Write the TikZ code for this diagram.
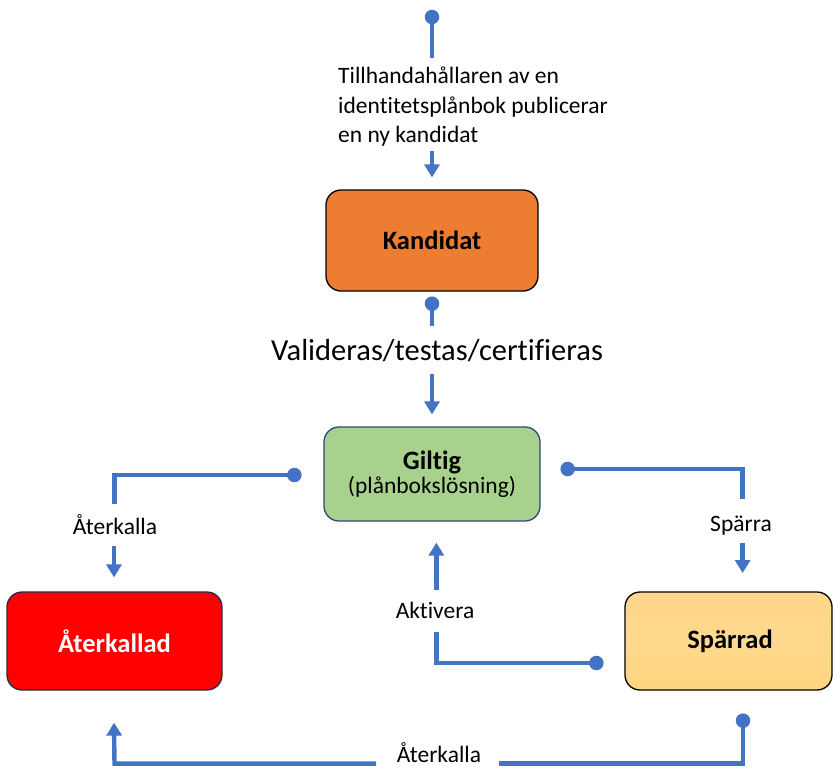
\documentclass[tikz,border=0pt]{standalone}
\usepackage{fontspec}
\setmainfont{Carlito}[RawFeature={-liga;-clig}]
\usetikzlibrary{arrows.meta,calc}
\definecolor{conn}{HTML}{4472C4}
\definecolor{orangefill}{HTML}{ED7D31}
\definecolor{greenfill}{HTML}{A9D18E}
\definecolor{redfill}{HTML}{FF0000}
\definecolor{sparrtop}{HTML}{FFD68A}
\definecolor{sparrmid}{HTML}{FFD98F}
\definecolor{sparrbot}{HTML}{FFD47E}
\definecolor{greenborder}{HTML}{2E4A6E}
\definecolor{navyborder}{HTML}{1F2F4F}
\begin{document}
\begin{tikzpicture}[x=1pt,y=-1pt,
  statebox/.style={draw,rounded corners=15pt,line width=1.3pt,inner sep=0pt},
  lbl/.style={inner sep=0pt,font=\fontsize{23.5}{29.5}\selectfont},
  wire/.style={draw=conn,line width=4.4pt},
  arr/.style={draw=conn,line width=4.4pt,-{Triangle[width=15pt,length=13pt]}},
  dot/.style={circle,fill=conn,inner sep=0pt,minimum size=14.5pt}
]
\useasboundingbox (0,0) rectangle (833,769);

% state boxes
\node[statebox,fill=orangefill,minimum width=212pt,minimum height=101pt,
  font=\fontsize{26.5}{30}\selectfont\bfseries] (kand) at (432,240.5) {Kandidat};
\node[statebox,draw=greenborder,fill=greenfill,minimum width=216pt,minimum height=94pt,
  align=center] (gilt) at (432,474)
  {\raisebox{-2pt}{\fontsize{26.5}{30}\selectfont\bfseries Giltig}\\[1pt]\raisebox{-2pt}{\fontsize{23.5}{28}\selectfont (plånbokslösning)}};
\node[statebox,draw=navyborder,fill=redfill,text=white,minimum width=215pt,minimum height=98pt,
  font=\fontsize{26.5}{30}\selectfont\bfseries] (ater) at (114.5,641) {Återkallad};
\node[statebox,top color=sparrtop,bottom color=sparrbot,middle color=sparrmid,minimum width=207pt,minimum height=98pt,
  font=\fontsize{26.5}{30}\selectfont\bfseries] (sparr) at (728.5,641) {\hspace*{3pt}\raisebox{-3pt}{Spärrad}};

% labels
\node[lbl,align=left,anchor=north west] (l1) at (338,67)
  {Tillhandahållaren av en\\identitetsplånbok publicerar\\en ny kandidat};
\node[inner sep=0pt,font=\fontsize{30.5}{34}\selectfont] (l2) at (437,351) {Valideras/testas/certifieras};
\node[lbl] (l3) at (115,525) {Återkalla};
\node[lbl] (l4) at (741,526) {Spärra};
\node[lbl] (l5) at (435,610) {Aktivera};
\node[lbl] (l6) at (439,753) {Återkalla};

% dots (connector starts)
\node[dot] (d1) at (432,17) {};
\node[dot] (d2) at ($(kand.south)+(0,12)$) {};
\node[dot] (d3) at ($(gilt.west)+(-29,1)$) {};
\node[dot] (d4) at ($(gilt.east)+(27,-5)$) {};
\node[dot] (d5) at ($(sparr.west)+(-28,22)$) {};
\node[dot] (d6) at ($(sparr.south)+(14.5,30)$) {};

% connector 1: start -> Kandidat
\draw[wire] (d1.center) -- ++(0,41);
\draw[arr] ($(kand.north)+(0,-38)$) -- ($(kand.north)+(0,-12)$);
% connector 2: Kandidat -> Giltig
\draw[wire] (d2.center) -- ++(0,22);
\draw[arr] ($(gilt.north)+(0,-52)$) -- ($(gilt.north)+(0,-12)$);
% connector 3: Giltig -> Återkallad
\draw[wire] (d3.center) -- (d3.center -| ater.north) -- ++(0,29);
\draw[arr] ($(ater.north)+(-0.5,-45)$) -- ($(ater.north)+(-0.5,-14)$);
% connector 4: Giltig -> Spärrad
\draw[wire] (d4.center) -- ++(175,0) coordinate (c4) -- ++(0,30);
\draw[arr] (c4 |- 0,543) -- (c4 |- 0,573);
% connector 5: Spärrad -> Giltig
\draw[wire] (d5.center) -- ++(-160,0) coordinate (c5) -- ++(0,-31);
\draw[arr] (c5 |- 0,590) -- ($(c5 |- gilt.south)+(0,21)$);
% connector 6: Spärrad -> Återkallad
\draw[wire] (d6.center) -- ++(0,43) coordinate (c6) -- (c6 -| 499,0);
\draw[arr] (376,0 |- c6) -- (ater.south |- c6) -- ($(ater.south)+(-0.5,32)$);
\end{tikzpicture}
\end{document}
